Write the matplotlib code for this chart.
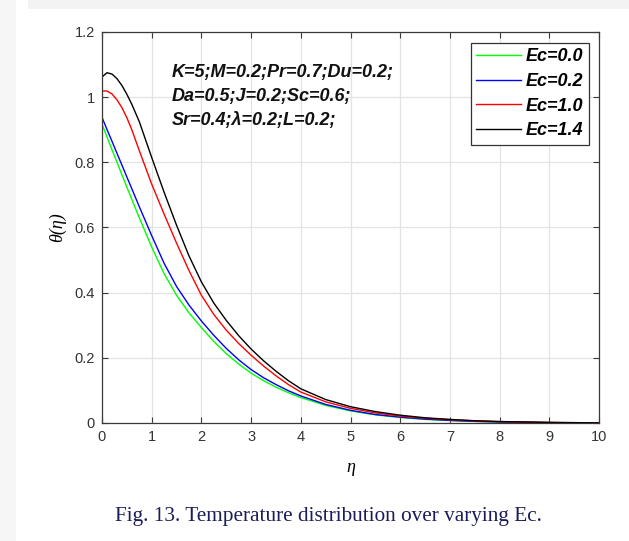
import matplotlib
matplotlib.use("Agg")
import matplotlib.pyplot as plt
from matplotlib.patches import Rectangle

# ---------------- data ----------------
eta = [0, 0.1, 0.2, 0.3, 0.4, 0.5, 0.6, 0.75, 1.0, 1.25, 1.5, 1.75, 2.0, 2.25,
       2.5, 2.75, 3.0, 3.25, 3.5, 3.75, 4.0, 4.5, 5.0, 5.5, 6.0, 6.5, 7.0, 7.5,
       8.0, 9.0, 10.0]

theta_ec00 = [0.917, 0.878, 0.839, 0.801, 0.762, 0.724, 0.686, 0.630, 0.540, 0.458,
              0.392, 0.338, 0.293, 0.250, 0.213, 0.181, 0.153, 0.130, 0.110, 0.093,
              0.078, 0.054, 0.037, 0.025, 0.017, 0.011, 0.0075, 0.005, 0.003,
              0.0012, 0.0003]
theta_ec02 = [0.938, 0.901, 0.865, 0.828, 0.792, 0.755, 0.719, 0.664, 0.575, 0.490,
              0.419, 0.362, 0.313, 0.269, 0.229, 0.194, 0.164, 0.139, 0.118, 0.099,
              0.083, 0.057, 0.039, 0.026, 0.018, 0.012, 0.008, 0.005, 0.0032,
              0.0012, 0.0003]
theta_ec10 = [1.019, 1.019, 1.010, 0.992, 0.968, 0.937, 0.900, 0.836, 0.733, 0.641,
              0.552, 0.468, 0.392, 0.333, 0.285, 0.244, 0.208, 0.175, 0.145, 0.118,
              0.095, 0.065, 0.045, 0.031, 0.021, 0.0145, 0.010, 0.0065, 0.0042,
              0.0016, 0.0005]
theta_ec14 = [1.062, 1.075, 1.071, 1.057, 1.036, 1.009, 0.978, 0.925, 0.815, 0.708,
              0.607, 0.513, 0.433, 0.368, 0.315, 0.268, 0.227, 0.191, 0.159, 0.130,
              0.105, 0.072, 0.050, 0.035, 0.024, 0.016, 0.011, 0.007, 0.0045,
              0.0017, 0.0005]

series = [theta_ec00, theta_ec02, theta_ec10, theta_ec14]
labels = ["Ec=0.0", "Ec=0.2", "Ec=1.0", "Ec=1.4"]
colors = ["#00ff00", "#0000ff", "#ff0000", "#000000"]

xticks = list(range(0, 11))
yticks = [0, 0.2, 0.4, 0.6, 0.8, 1.0, 1.2]
yticklabels = ["0", "0.2", "0.4", "0.6", "0.8", "1", "1.2"]

annotation = ["K=5;M=0.2;Pr=0.7;Du=0.2;",
              "Da=0.5;J=0.2;Sc=0.6;",
              "Sr=0.4;\u03bb=0.2;L=0.2;"]
caption = "Fig. 13. Temperature distribution over varying Ec."

# ---------------- figure ----------------
W, H = 629, 541
fig = plt.figure(figsize=(W / 100, H / 100), dpi=100)
fig.patch.set_facecolor("white")

# light page borders of the screenshot
fig.add_artist(Rectangle((0, 0), 16 / W, 1, transform=fig.transFigure,
                         facecolor="#f6f6f6", edgecolor="none", zorder=0))
fig.add_artist(Rectangle((28 / W, 1 - 9 / H), 1, 9 / H, transform=fig.transFigure,
                         facecolor="#f3f3f3", edgecolor="none", zorder=0))

L, R, T, B = 102, 599, 32, 423
ax = fig.add_axes([L / W, 1 - B / H, (R - L) / W, (B - T) / H])

sans = "Liberation Sans"
for y, lab, c in zip(series, labels, colors):
    ax.plot(eta, y, color=c, lw=1.0, label=lab)

ax.set_xlim(0, 10)
ax.set_ylim(0, 1.2)
ax.set_xticks(xticks)
ax.set_yticks(yticks)
ax.set_yticklabels(yticklabels)
ax.grid(True, color="#e3e3e3", lw=0.9)
ax.set_axisbelow(True)

spine_c = "#3a3a3a"
for s in ax.spines.values():
    s.set_color(spine_c)
    s.set_linewidth(0.9)
ax.tick_params(direction="in", length=4, width=0.8, colors=spine_c,
               top=True, right=True, labelsize=10.5, pad=5)
for lbl in ax.get_xticklabels() + ax.get_yticklabels():
    lbl.set_fontfamily(sans)
    lbl.set_color("#333333")

ax.set_xlabel("\u03b7", family="Liberation Serif", style="italic", fontsize=13)
ax.set_ylabel("\u03b8(\u03b7)", family="Liberation Serif", style="italic", fontsize=13)
ax.xaxis.set_label_coords(0.5, -0.093)
ax.yaxis.set_label_coords(-0.072, 0.5)

for i, line in enumerate(annotation):
    ax.text(1.41, 1.077 - i * 0.075, line, fontfamily=sans, fontweight="bold",
            fontstyle="italic", fontsize=13, va="center", ha="left", color="#111111")

leg = ax.legend(loc="upper right", bbox_to_anchor=(0.98, 0.972), borderaxespad=0,
                prop={"family": sans, "weight": "bold", "style": "italic", "size": 13},
                handlelength=2.45, handletextpad=0.3, labelspacing=0.42,
                borderpad=0.3, fancybox=False, framealpha=1)
leg.get_frame().set_edgecolor("#333333")
leg.get_frame().set_linewidth(0.9)

fig.text(328.5 / W, 1 - 516 / H, caption, family="Liberation Serif", fontsize=15.3,
         color="#1c1c5a", ha="center", va="center")

fig.savefig("out.png", dpi=100)
